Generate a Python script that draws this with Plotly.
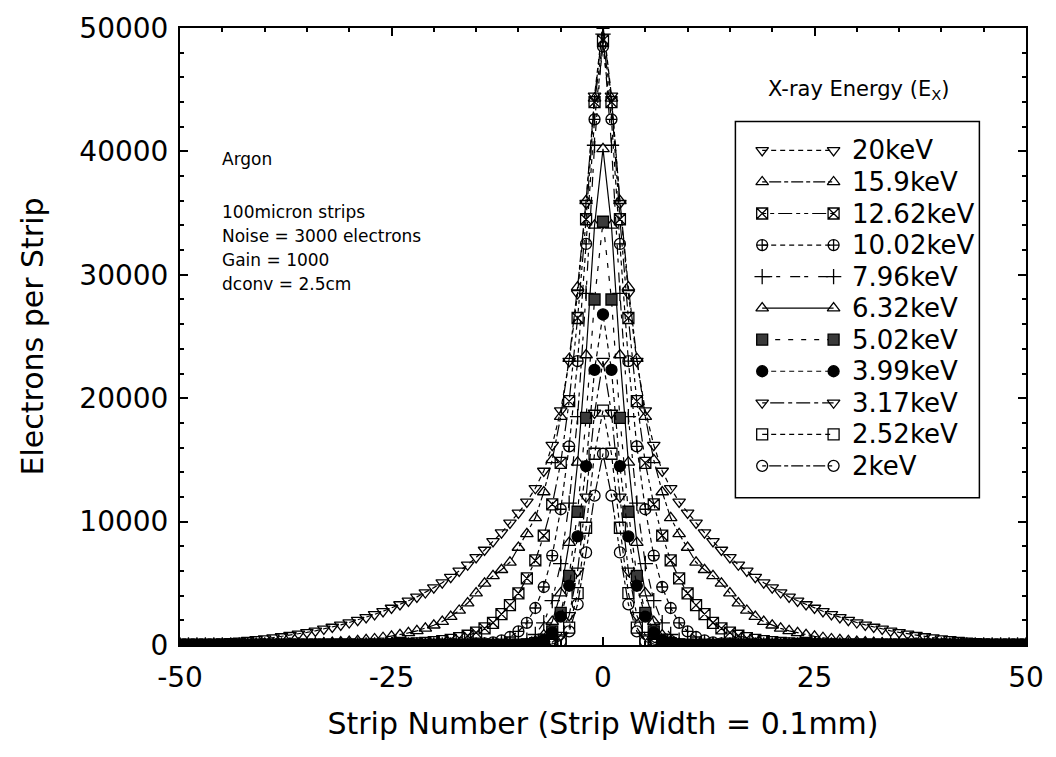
import plotly.graph_objects as go

# Strip numbers (x axis categories)
strips = list(range(-50, 51))

# Half-profiles (strip 0 .. 50), electrons per strip
e20 = [50500, 44500, 35800, 28500, 23000, 19000, 16200, 14100, 12700, 11600,
       10700, 9900, 9100, 8400, 7700, 7100, 6500, 6000, 5500, 5050,
       4650, 4250, 3900, 3580, 3280, 3000, 2730, 2480, 2240, 2020,
       1820, 1630, 1460, 1300, 1150, 1020, 900, 790, 690, 600,
       520, 450, 390, 335, 285, 245, 210, 180, 150, 125, 105]
e159 = [50200, 44300, 36000, 29000, 23200, 18500, 15000, 12400, 10300, 9000,
        7900, 6700, 6100, 5600, 5000, 4200, 3400, 2800, 2300, 1900,
        1600, 1350, 1150, 980, 830, 700, 590, 490, 410, 340,
        280, 230, 190, 155, 125, 100, 80, 65, 50, 40,
        32, 25, 20, 16, 13, 10, 8, 6, 5, 4, 3]
e1262 = [49000, 44000, 34500, 26500, 19760, 14760, 11400, 8870, 6850, 5400,
         4190, 3230, 2500, 1800, 1350, 1000, 750, 560, 420, 310,
         230, 170, 125, 90, 65, 48, 35, 25, 18, 13,
         9, 7, 5, 4, 3, 2, 2, 1, 1, 1,
         0, 0, 0, 0, 0, 0, 0, 0, 0, 0, 0]
e1002 = [48500, 42600, 32500, 23000, 16100, 11000, 7250, 4700, 3000, 1800,
         1100, 650, 380, 220, 130, 75, 45, 26, 15, 9,
         5, 3, 2, 1, 1, 0, 0, 0, 0, 0,
         0, 0, 0, 0, 0, 0, 0, 0, 0, 0,
         0, 0, 0, 0, 0, 0, 0, 0, 0, 0, 0]
e796 = [49500, 40500, 28500, 18500, 11500, 6600, 3600, 1800, 850, 380,
        160, 65, 25, 10, 4, 0, 0, 0, 0, 0,
        0, 0, 0, 0, 0, 0, 0, 0, 0, 0,
        0, 0, 0, 0, 0, 0, 0, 0, 0, 0,
        0, 0, 0, 0, 0, 0, 0, 0, 0, 0, 0]
e632 = [40200, 34000, 23500, 14800, 8300, 4200, 1900, 800, 310, 110,
        40, 15, 5, 0, 0, 0, 0, 0, 0, 0,
        0, 0, 0, 0, 0, 0, 0, 0, 0, 0,
        0, 0, 0, 0, 0, 0, 0, 0, 0, 0,
        0, 0, 0, 0, 0, 0, 0, 0, 0, 0, 0]
e502 = [34300, 28000, 18400, 10800, 5600, 2600, 1100, 430, 150, 50,
        15, 5, 0, 0, 0, 0, 0, 0, 0, 0,
        0, 0, 0, 0, 0, 0, 0, 0, 0, 0,
        0, 0, 0, 0, 0, 0, 0, 0, 0, 0,
        0, 0, 0, 0, 0, 0, 0, 0, 0, 0, 0]
e399 = [26800, 22300, 14500, 8800, 4800, 2300, 1000, 400, 150, 50,
        15, 0, 0, 0, 0, 0, 0, 0, 0, 0,
        0, 0, 0, 0, 0, 0, 0, 0, 0, 0,
        0, 0, 0, 0, 0, 0, 0, 0, 0, 0,
        0, 0, 0, 0, 0, 0, 0, 0, 0, 0, 0]
e317 = [23000, 18800, 12000, 6000, 2400, 800, 230, 60, 15, 0,
        0, 0, 0, 0, 0, 0, 0, 0, 0, 0,
        0, 0, 0, 0, 0, 0, 0, 0, 0, 0,
        0, 0, 0, 0, 0, 0, 0, 0, 0, 0,
        0, 0, 0, 0, 0, 0, 0, 0, 0, 0, 0]
e252 = [19000, 15500, 9500, 4200, 1400, 380, 90, 20, 0, 0,
        0, 0, 0, 0, 0, 0, 0, 0, 0, 0,
        0, 0, 0, 0, 0, 0, 0, 0, 0, 0,
        0, 0, 0, 0, 0, 0, 0, 0, 0, 0,
        0, 0, 0, 0, 0, 0, 0, 0, 0, 0, 0]
e200 = [15500, 12100, 7500, 3300, 1100, 300, 70, 15, 0, 0,
        0, 0, 0, 0, 0, 0, 0, 0, 0, 0,
        0, 0, 0, 0, 0, 0, 0, 0, 0, 0,
        0, 0, 0, 0, 0, 0, 0, 0, 0, 0,
        0, 0, 0, 0, 0, 0, 0, 0, 0, 0, 0]

labels = ["20keV", "15.9keV", "12.62keV", "10.02keV", "7.96keV", "6.32keV",
          "5.02keV", "3.99keV", "3.17keV", "2.52keV", "2keV"]
profiles = [e20, e159, e1262, e1002, e796, e632, e502, e399, e317, e252, e200]

x_tick_vals = [-50, -25, 0, 25, 50]
x_tick_text = ["-50", "-25", "0", "25", "50"]

styles = [
    dict(symbol="triangle-down-open", fill="black", dash="5px,4px"),
    dict(symbol="triangle-up-open", fill="black", dash="4px,3px,12px,3px"),
    dict(symbol="square-x-open", fill="black", dash="4px,4px,4px,4px,14px,4px"),
    dict(symbol="circle-cross-open", fill="black", dash="5px,4px"),
    dict(symbol="cross-thin-open", fill="black", dash="10px,4px,4px,10px"),
    dict(symbol="triangle-up-open", fill="black", dash="solid"),
    dict(symbol="square", fill="#3a3a3a", dash="5px,8px"),
    dict(symbol="circle", fill="black", dash="5px,4px"),
    dict(symbol="triangle-down-open", fill="black", dash="4px,4px,14px,4px"),
    dict(symbol="square-open", fill="black", dash="5px,4px"),
    dict(symbol="circle-open", fill="black", dash="4px,3px,12px,3px"),
]

# Plot area in pixels (layout)
L, R, T, B = 180, 1033, 25, 645

fig = go.Figure()
for lab, half, st in zip(labels, profiles, styles):
    full = half[:0:-1] + half  # profile is symmetric about strip 0
    fig.add_trace(go.Scatter(
        x=strips, y=full, name=lab, mode="lines+markers", showlegend=False,
        line=dict(color="black", width=1.2, dash=st["dash"]),
        marker=dict(symbol=st["symbol"], size=11, color=st["fill"],
                    line=dict(color="black", width=1.3)),
    ))

# Hand-drawn legend (marker - line - marker samples, as in the original)
LEG_BOX = (740, 986, 119, 497)
LEG_ROW0, LEG_STEP = 148, 31.7
LEG_SX0, LEG_SX1, LEG_TX = 767, 839, 856
for i, (lab, st) in enumerate(zip(labels, styles)):
    ry = LEG_ROW0 + LEG_STEP * i
    fig.add_trace(go.Scatter(
        x=[LEG_SX0, LEG_SX1], y=[ry, ry], mode="lines+markers", showlegend=False,
        xaxis="x2", yaxis="y2", hoverinfo="skip", cliponaxis=False,
        line=dict(color="black", width=1.2, dash=st["dash"]),
        marker=dict(symbol=st["symbol"], size=11, color=st["fill"],
                    line=dict(color="black", width=1.3)),
    ))
    fig.add_annotation(x=LEG_TX, y=ry, xref="x2", yref="y2", text=lab,
                       showarrow=False, xanchor="left", yanchor="middle",
                       font=dict(family="DejaVu Sans", size=26, color="black"))
fig.add_shape(type="rect", xref="x2", yref="y2",
              x0=LEG_BOX[0], x1=LEG_BOX[1], y0=LEG_BOX[2], y1=LEG_BOX[3],
              line=dict(color="black", width=1.5), fillcolor="rgba(0,0,0,0)", layer="below")

axis_font = dict(family="DejaVu Sans", size=28, color="black")
title_font = dict(family="DejaVu Sans", size=30, color="black")

fig.update_layout(
    width=1056, height=757,
    margin=dict(l=L, r=1056 - R, t=T, b=757 - B),
    paper_bgcolor="white", plot_bgcolor="white",
    font=dict(family="DejaVu Sans", color="black"),
    showlegend=False,
    xaxis=dict(
        range=[-50, 50], tickvals=x_tick_vals, ticktext=x_tick_text,
        ticks="inside", ticklen=8, tickwidth=1.5, tickcolor="black",
        minor=dict(dtick=5, ticks="inside", ticklen=4, tickcolor="black"),
        showline=True, linewidth=2, linecolor="black", mirror="ticks",
        showgrid=False, zeroline=False, ticklabelstandoff=6,
        tickfont=axis_font,
        title=dict(text="Strip Number (Strip Width = 0.1mm)", font=title_font, standoff=20),
    ),
    yaxis=dict(
        range=[0, 50000], dtick=10000, tickformat="d",
        ticks="inside", ticklen=8, tickwidth=1.5, tickcolor="black",
        minor=dict(dtick=2000, ticks="inside", ticklen=4, tickcolor="black"),
        showline=True, linewidth=2, linecolor="black", mirror="ticks",
        showgrid=False, zeroline=False, ticklabelstandoff=4,
        tickfont=axis_font,
        title=dict(text="Electrons per Strip", font=title_font, standoff=27),
    ),
    xaxis2=dict(range=[L, R], overlaying="x", anchor="y2", visible=False),
    yaxis2=dict(range=[B, T], overlaying="y", anchor="x2", visible=False),
)

note_font = dict(family="DejaVu Sans", size=17, color="black")
notes = [("Argon", 157), ("100micron strips", 210), ("Noise = 3000 electrons", 234),
         ("Gain = 1000", 258), ("dconv = 2.5cm", 282)]
for txt, ypx in notes:
    fig.add_annotation(x=220, y=ypx, xref="x2", yref="y2",
                       text=txt, showarrow=False, xanchor="left", yanchor="middle",
                       font=note_font)

fig.add_annotation(x=864, y=87, xref="x2", yref="y2",
                   text="X-ray Energy (E<sub>X</sub>)", showarrow=False,
                   xanchor="center", yanchor="middle",
                   font=dict(family="DejaVu Sans", size=21, color="black"))

fig.write_html("out.html")
